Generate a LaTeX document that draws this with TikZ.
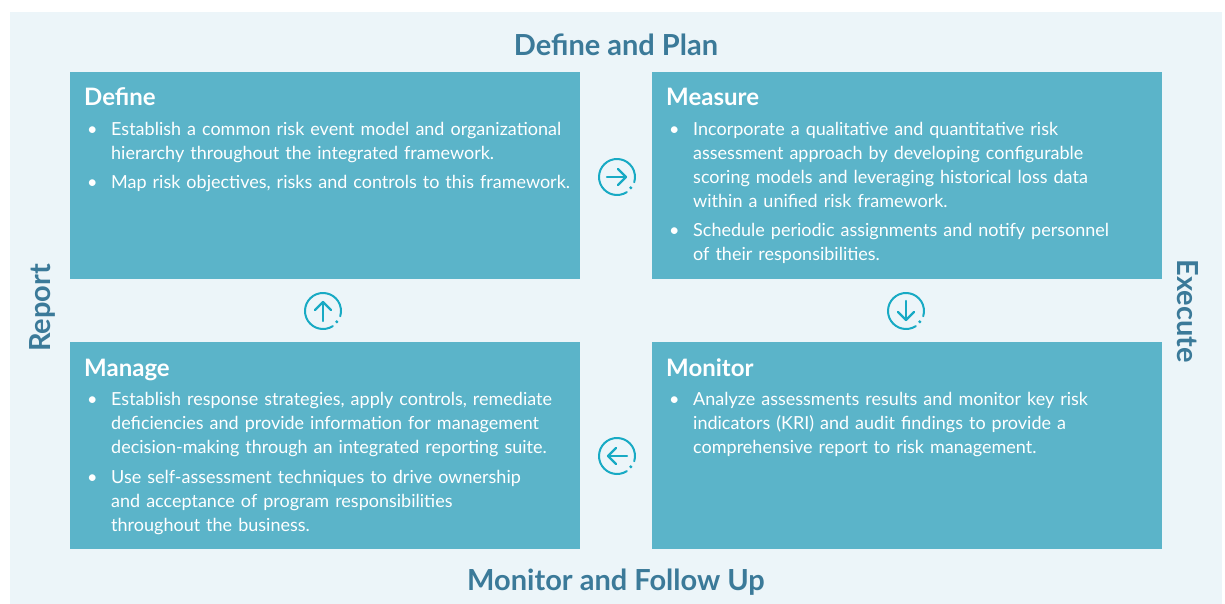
\documentclass[tikz,border=0pt]{standalone}
\usepackage{fontspec}
\setmainfont{Lato}
\definecolor{bgc}{RGB}{236,245,249}
\definecolor{boxc}{RGB}{91,180,201}
\definecolor{titc}{RGB}{59,122,153}
\definecolor{icoc}{RGB}{24,170,196}
\newcommand\bul[1]{\noindent\hangindent=27pt\hangafter=1\makebox[27pt][l]{\hspace{3pt}\textbullet}#1\par}
\tikzset{
  quad/.style={fill=boxc, draw=none, minimum width=510pt, minimum height=207pt, inner sep=0, anchor=north west},
  head/.style={text=white, font=\bfseries\fontsize{24}{28}\selectfont, anchor=base west, inner sep=0},
  body/.style={text=white, font=\fontsize{18}{24}\selectfont, anchor=base west, inner sep=0, text width=495pt},
  title/.style={text=titc, font=\bfseries\fontsize{29}{34}\selectfont, inner sep=0},
  iconline/.style={draw=icoc, line width=2.3pt, line cap=round, line join=round},
  pics/cyc/.style={code={
    \draw[iconline, line width=2pt] (57:18) arc[start angle=57, end angle=377, radius=18];
    \fill[icoc] (38:17.5) circle (1.7);
    \draw[iconline, rotate=#1] (-10,0) -- (9,0);
    \draw[iconline, rotate=#1] (1,-8) -- (9,0) -- (1,8);
  }}
}
\begin{document}
\begin{tikzpicture}[x=1pt, y=-1pt]
\useasboundingbox (0,0) rectangle (1225,604);
\fill[bgc] (10,12) rectangle (1222,604);

\node[quad] (qdef) at (70,72) {};
\node[quad] (qmea) at (652,72) {};
\node[quad] (qman) at (70,342) {};
\node[quad] (qmon) at (652,342) {};

\node[head] (hdef) at (84,106) {Define};
\node[head] (hmea) at (666,106) {Measure};
\node[head] (hman) at (84,376) {Manage};
\node[head] (hmon) at (666,376) {Monitor};

\node[body] (bdef) at (84,135.5) {\parskip=5pt%
\bul{Establish a common risk event model and organizational\newline hierarchy throughout the integrated framework.}%
\bul{Map risk objectives, risks and controls to this framework.}};
\node[body] (bmea) at (666,135.5) {\parskip=5pt%
\bul{Incorporate a qualitative and quantitative risk\newline assessment approach by developing configurable\newline scoring models and leveraging historical loss data\newline within a unified risk framework.}%
\bul{Schedule periodic assignments and notify personnel\newline of their responsibilities.}};
\node[body] (bman) at (84,405.5) {\parskip=5.5pt%
\bul{Establish response strategies, apply controls, remediate\newline deficiencies and provide information for management\newline decision-making through an integrated reporting suite.}%
\bul{Use self-assessment techniques to drive ownership\newline and acceptance of program responsibilities\newline throughout the business.}};
\node[body] (bmon) at (666,405.5) {\parskip=5pt%
\bul{Analyze assessments results and monitor key risk\newline indicators (KRI) and audit findings to provide a\newline comprehensive report to risk management.}};

\node[title] (tdp) at (616,45) {Define and Plan};
\node[title] (tmf) at (616,582) {Monitor and Follow Up};
\node[title, rotate=90] (trep) at (42,308) {Report};
\node[title, rotate=-90] (texe) at (1188,311) {Execute};

\pic at (617,177) {cyc=0};
\pic at (323,311) {cyc=90};
\pic at (906,311) {cyc=-90};
\pic at (617,456) {cyc=180};
\end{tikzpicture}
\end{document}
